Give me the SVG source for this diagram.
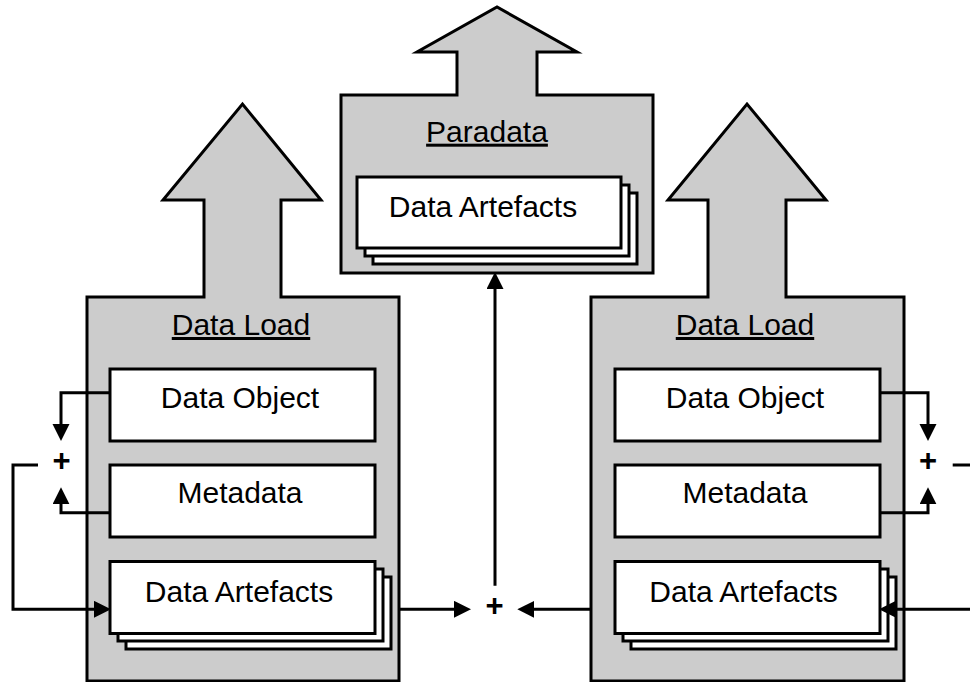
<svg xmlns="http://www.w3.org/2000/svg" width="970" height="682" viewBox="0 0 970 682">
<style>
.shape{fill:#cccccc;stroke:#000;stroke-width:3;stroke-linejoin:miter}
.box{fill:#fff;stroke:#000;stroke-width:3}
.lbl{font-family:"Liberation Sans",Arial,sans-serif;font-size:30px;fill:#000;text-anchor:middle}
.ttl{text-decoration:underline}
.plus{font-family:"Liberation Sans",Arial,sans-serif;font-size:31px;font-weight:bold;fill:#000;text-anchor:middle}
.conn{fill:none;stroke:#000;stroke-width:3;marker-end:url(#ah)}
.plain{fill:none;stroke:#000;stroke-width:3}
</style>
<defs>
<marker id="ah" markerUnits="userSpaceOnUse" markerWidth="18" markerHeight="18" refX="10" refY="8.5" orient="auto" viewBox="0 0 18 18">
<path d="M0,0 L17,8.5 L0,17 Z" fill="#000"/>
</marker>
</defs>
<rect width="970" height="682" fill="#fff"/>

<g id="paradata">
<path class="shape" d="M341,273 V95 H457 V52 H417 L497,7 L577,52 H537 V95 H653 V273 Z"/>
<text class="lbl ttl" x="487" y="141.7">Paradata</text>
<g id="paradata-artefacts">
<rect class="box" x="373" y="193" width="264" height="71"/>
<rect class="box" x="365" y="185" width="264" height="71"/>
<rect class="box" x="357" y="177" width="264" height="71"/>
<text class="lbl" x="483" y="216.7">Data Artefacts</text>
</g>
</g>

<g id="dataload-left">
<path class="shape" d="M87,681 V297 H204 V200 H163 L242.5,104 L321,200 H281 V297 H399 V681 Z"/>
<text class="lbl ttl" x="241" y="335">Data Load</text>
<g id="left-dataobject">
<rect class="box" x="110" y="369" width="265" height="72"/>
<text class="lbl" x="240" y="408.3">Data Object</text>
</g>
<g id="left-metadata">
<rect class="box" x="110" y="465" width="265" height="72"/>
<text class="lbl" x="240" y="503.3">Metadata</text>
</g>
<g id="left-artefacts">
<rect class="box" x="126" y="577" width="265" height="72"/>
<rect class="box" x="118" y="569" width="265" height="72"/>
<rect class="box" x="110" y="561.5" width="265" height="72"/>
<text class="lbl" x="239" y="601.5">Data Artefacts</text>
</g>
</g>

<g id="dataload-right">
<path class="shape" d="M591,681 V297 H708 V200 H668 L747,104 L826,200 H786 V297 H904 V681 Z"/>
<text class="lbl ttl" x="745" y="335">Data Load</text>
<g id="right-dataobject">
<rect class="box" x="615" y="369" width="265" height="72"/>
<text class="lbl" x="745" y="408.3">Data Object</text>
</g>
<g id="right-metadata">
<rect class="box" x="615" y="465" width="265" height="72"/>
<text class="lbl" x="745" y="503.3">Metadata</text>
</g>
<g id="right-artefacts">
<rect class="box" x="631" y="577" width="265" height="72"/>
<rect class="box" x="623" y="569" width="265" height="72"/>
<rect class="box" x="615" y="561.5" width="265" height="72"/>
<text class="lbl" x="743.5" y="601.5">Data Artefacts</text>
</g>
</g>

<g id="junction-left"><text class="plus" x="61.5" y="470.5">+</text></g>
<g id="junction-center"><text class="plus" x="494.5" y="615.5">+</text></g>
<g id="junction-right"><text class="plus" x="928" y="470.5">+</text></g>

<g id="connectors">
<path class="conn" d="M110,392.7 H61 V434"/>
<path class="conn" d="M110,512.7 H61 V494.3"/>
<path class="conn" d="M38,465 H13 V609.3 H104"/>
<path class="conn" d="M399,609.3 H464"/>
<path class="conn" d="M591,609.3 H524.3"/>
<path class="conn" d="M495,585.7 V279"/>
<path class="conn" d="M880,392.7 H928 V434"/>
<path class="conn" d="M880,512.7 H928 V494.3"/>
<path class="plain" d="M952.7,465 H970"/>
<path class="conn" d="M970,609.3 H886"/>
</g>
</svg>
